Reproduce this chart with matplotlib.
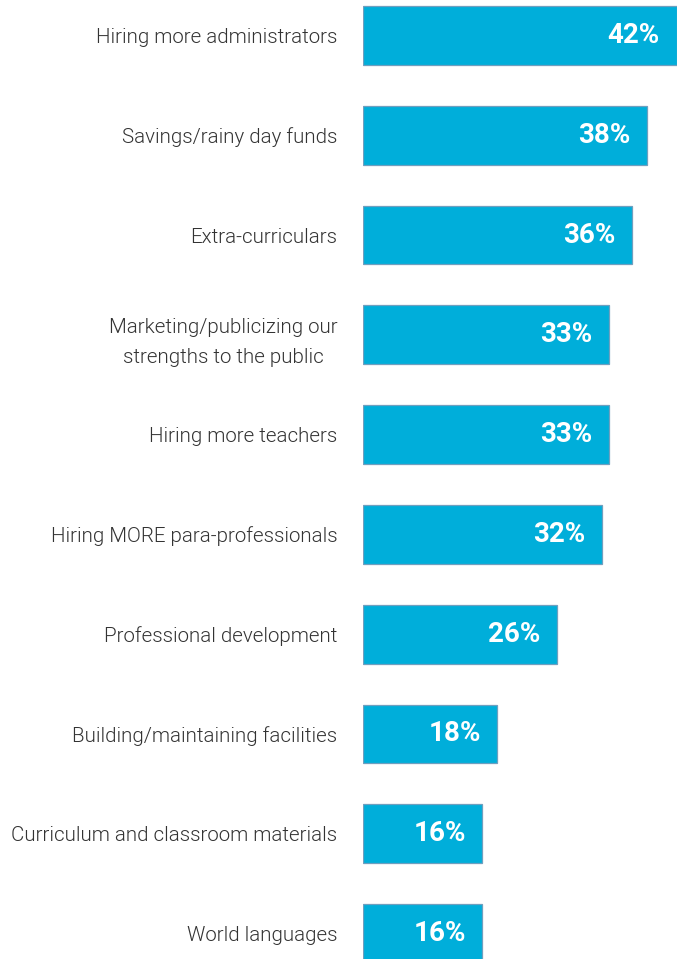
import matplotlib
matplotlib.use("Agg")
import matplotlib.pyplot as plt

categories = [
    "Hiring more administrators",
    "Savings/rainy day funds",
    "Extra-curriculars",
    "Marketing/publicizing our\nstrengths to the public",
    "Hiring more teachers",
    "Hiring MORE para-professionals",
    "Professional development",
    "Building/maintaining facilities",
    "Curriculum and classroom materials",
    "World languages",
]
values = [42, 38, 36, 33, 33, 32, 26, 18, 16, 16]
value_labels = ["42%", "38%", "36%", "33%", "33%", "32%", "26%", "18%", "16%", "16%"]

label_font = "Roboto"

W, H = 677, 959
fig = plt.figure(figsize=(W / 100, H / 100), dpi=100)
left = 363 / W
ax = fig.add_axes([left, 0, 1 - left, 1])

y = list(range(len(categories)))
ax.barh(y, values, height=0.59, color="#00AEDA", edgecolor="#6f9fbf", linewidth=0.9)

for yi, v, t in zip(y, values, value_labels):
    ax.annotate(t, xy=(v, yi), xytext=(-12, 0), textcoords="offset points",
                ha="right", va="center", color="white", fontsize=20,
                fontweight="bold", family=[label_font, "DejaVu Sans"])

ax.set_xlim(0, 42.05)
spacing = 99.78
ax.set_ylim(9 + (959 - 933.5) / spacing, -35.5 / spacing)
ax.set_yticks(y)
ax.set_yticklabels(categories, fontsize=14.8, color="#333333", fontweight=300,
                   family=[label_font, "DejaVu Sans"], linespacing=1.75)
for lbl in ax.get_yticklabels():
    lbl.set_multialignment("center")
ax.tick_params(axis="y", length=0, pad=18.5)
ax.set_xticks([])
for s in ax.spines.values():
    s.set_visible(False)

fig.savefig("out.png", dpi=100)
